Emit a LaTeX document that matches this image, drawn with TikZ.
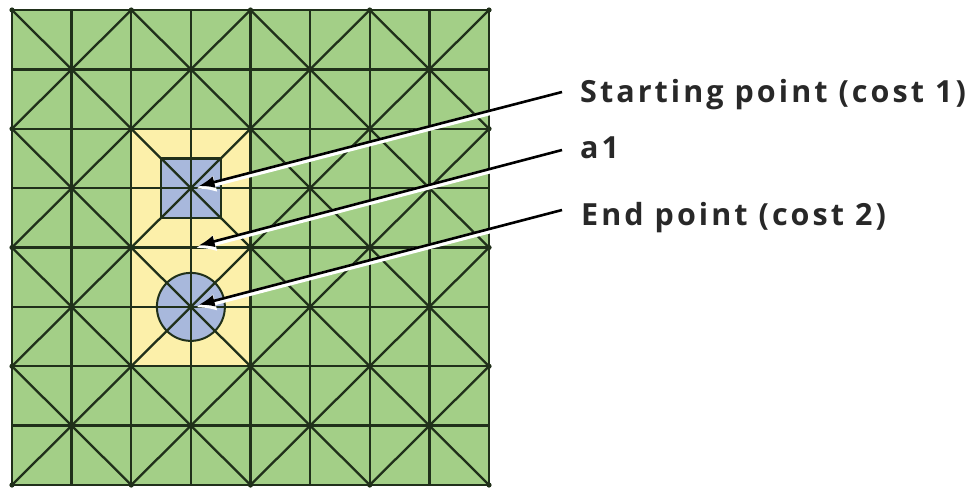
\documentclass[tikz,border=0pt]{standalone}
\usepackage{fontspec}
\setmainfont{Open Sans}
\newfontfamily\lblfont{Open Sans}[LetterSpace=10]
\usetikzlibrary{arrows.meta}
\definecolor{gridgreen}{RGB}{163,207,135}
\definecolor{celly}{RGB}{252,240,170}
\definecolor{cellb}{RGB}{168,184,220}
\definecolor{gridink}{RGB}{32,48,26}
\definecolor{txtink}{RGB}{40,40,40}
\tikzset{
  gridline/.style={draw=gridink, line width=2.3pt},
  vdot/.style={fill=gridink},
  lbl/.style={inner sep=0pt, anchor=base west, text=txtink, font=\lblfont\fontsize{30.5}{32}\selectfont\bfseries},
  halo/.style={draw=white, line width=5.5pt, shorten >=5pt, -{Latex[length=20pt,width=17pt]}, transform canvas={yshift=-1.8pt}},
  pointer/.style={draw=black, line width=2.6pt, shorten >=8pt, -{Latex[length=16pt,width=12pt]}}
}
\begin{document}
\begin{tikzpicture}[x=1pt,y=-1pt]
\useasboundingbox (0,0) rectangle (979,488);
\begin{scope}[shift={(12,10)}, x=59.625pt, y=-59.375pt]
  \fill[gridgreen] (0,0) rectangle (8,8);
  \fill[celly] (2,2) rectangle (4,6);
  \fill[cellb] (2.5,2.5) rectangle (3.5,3.5);
  \fill[cellb] (3,5) circle[radius=34pt];
  \begin{scope}
    \clip (0,0) rectangle (8,8);
    \foreach \d in {-8,-6,...,8} {
      \draw[gridline] (\d,0) -- ++(8,8);
      \draw[gridline] (\d+8,0) -- ++(-8,8);
    }
  \end{scope}
  \foreach \i in {1,...,7} {
    \draw[gridline] (\i,0) -- (\i,8);
    \draw[gridline] (0,\i) -- (8,\i);
  }
  \foreach \i in {0,...,8} {
    \foreach \j in {0,...,8} {
      \pgfmathtruncatemacro{\vparity}{mod(\i+\j,2)}
      \ifnum\vparity=0 \fill[vdot] (\i,\j) circle[radius=2.6pt];\fi
    }
  }
  \draw[gridline] (2.5,2.5) rectangle (3.5,3.5);
  \draw[gridline, line width=2pt] (3,5) circle[radius=34pt];
  \draw[gridline, line width=2.6pt, line join=miter] (0,0) rectangle (8,8);
  \coordinate (tS) at (3,3);
  \coordinate (tA) at (3,4);
  \coordinate (tE) at (3,5);
\end{scope}
\node[lbl] (sp) at (580,102) {Starting point (cost 1)};
\node[lbl] (a1) at (580,158) {a1};
\node[lbl] (ep) at (581,225) {End point (cost 2)};
\coordinate (eS) at (562,92);
\coordinate (eA) at (562,150);
\coordinate (eE) at (562,210);
\foreach \s/\t in {eS/tS, eA/tA, eE/tE} {
  \draw[halo] (\s) -- (\t);
}
\foreach \s/\t in {eS/tS, eA/tA, eE/tE} {
  \draw[pointer] (\s) -- (\t);
}
\end{tikzpicture}
\end{document}
